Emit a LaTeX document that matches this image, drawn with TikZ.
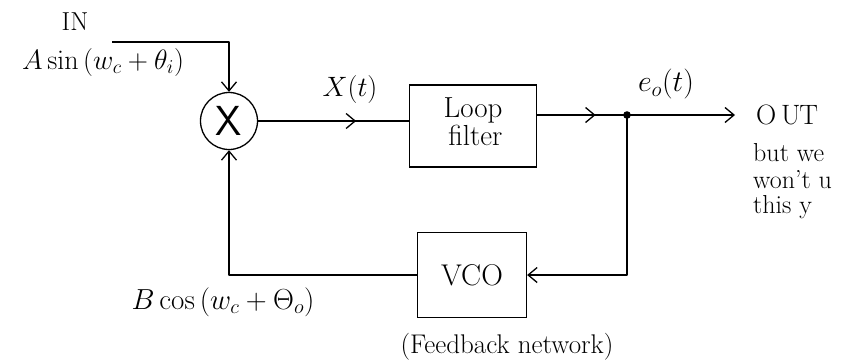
\RequirePackage{fix-cm}
\documentclass[tikz,border=0pt]{standalone}
\usetikzlibrary{arrows.meta,decorations.markings}
\newcommand\fsz[1]{\fontsize{#1}{#1}\selectfont}
\begin{document}
\begin{tikzpicture}[x=1pt,y=-1pt,
  wire/.style={line width=1.3pt, line join=round},
  barb/.style={-{Straight Barb[length=9pt,width=15pt,line width=1.3pt]}},
  midbarb/.style={postaction=decorate, decoration={markings,
      mark=at position #1 with {\arrow{Straight Barb[length=9pt,width=15pt,line width=1.3pt]}}}},
  block/.style={draw, line width=1.3pt, inner sep=2pt},
  lbl/.style={inner sep=0pt},
  note/.style={font=\fsz{26}, anchor=west, inner sep=0pt}]
\useasboundingbox (0,0) rectangle (846,362);

% blocks of the loop
\node[circle, draw, line width=1.3pt, minimum size=57pt, inner sep=0pt,
      font=\fsz{42}\sffamily] (mult) at (229,121) {X};
\node[block, minimum width=127pt, minimum height=82pt] (lf) at (473,126)
  {\fsz{29}\begin{tabular}{@{}l@{}}Loop\\[-1pt]\,filter\end{tabular}};
\node[block, minimum width=109pt, minimum height=85pt,
      font=\fsz{30}] (vco) at (472,275) {VCO};

% points on the wires
\coordinate (in) at (112,42);
\coordinate (j) at (627,115);
\coordinate (oe) at (735,115);

% input into the multiplier
\draw[wire, barb] (in) -- (mult |- in) -- (mult.north);
% multiplier to loop filter
\draw[wire, midbarb=0.65] (mult.east) -- (lf.west |- mult.east);
% loop filter to the output junction
\draw[wire, midbarb=0.65] (lf.east |- j) -- (j);
\fill (j) circle (3.8pt);
% output
\draw[wire, barb] (j) -- (oe);
% feedback through the VCO
\draw[wire, barb] (j) -- (j |- vco.east) -- (vco.east);
\draw[wire, barb] (vco.west) -- (mult |- vco.west) -- (mult.south);

% labels
\node[lbl, font=\fsz{26}] (inlbl) at (75,22) {IN};
\node[lbl, font=\fsz{28}] (sig) at (103,62) {$A\sin\,(w_c+\theta_i)$};
\node[lbl, font=\fsz{28}] (xt) at (350,89) {$X(t)$};
\node[lbl, font=\fsz{30}] (eo) at (666,84) {$e_o(t)$};
\node[lbl, font=\fsz{28}, anchor=west] (out) at (756,115) {O\,U\kern-1ptT};
\node[note] (n1) at (753,153) {but we};
\node[note] (n2) at (753,180) {won't u};
\node[note] (n3) at (753,207) {this y};
\node[lbl, font=\fsz{29}] (fb) at (223,302) {$B\cos\,(w_c+\Theta_o)$};
\node[lbl, font=\fsz{27}] (fbn) at (507,347) {(Feedback network)};
\end{tikzpicture}
\end{document}
